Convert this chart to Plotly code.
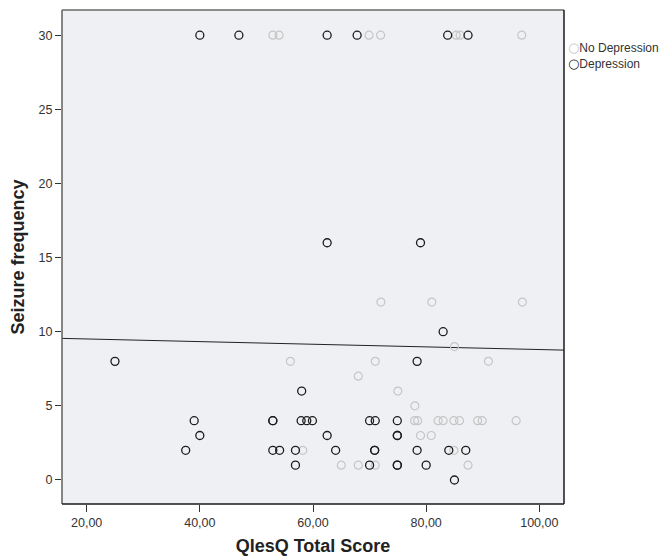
import plotly.graph_objects as go

# ---- data ----
nodep_x = [52.9, 54.0, 69.9, 71.95, 85.3, 86.0, 96.9,
           72.0, 81.0, 97.0,
           85.0,
           56.0, 71.0, 91.0,
           68.0,
           75.0,
           78.0,
           77.95, 78.5, 82.1, 83.0, 84.9, 85.9, 89.1, 89.9, 95.9,
           79.0, 80.9,
           58.2, 84.9,
           65.0, 68.0, 71.0, 87.4]
nodep_y = [30, 30, 30, 30, 30, 30, 30,
           12, 12, 12,
           9,
           8, 8, 8,
           7,
           6,
           5,
           4, 4, 4, 4, 4, 4, 4, 4, 4,
           3, 3,
           2, 2,
           1, 1, 1, 1]

dep_x = [40.0, 46.9, 62.5, 67.8, 83.8, 87.4,
         62.5, 79.0,
         83.0,
         25.0, 78.4,
         58.0,
         39.0, 52.9, 52.9, 57.9, 58.9, 59.9, 70.0, 71.0, 74.9,
         40.0, 62.5, 74.9, 74.9,
         37.5, 52.9, 54.1, 56.9, 64.0, 70.9, 70.9, 78.4, 84.0, 87.0,
         56.9, 70.0, 74.9, 74.9, 80.0,
         85.0]
dep_y = [30, 30, 30, 30, 30, 30,
         16, 16,
         10,
         8, 8,
         6,
         4, 4, 4, 4, 4, 4, 4, 4, 4,
         3, 3, 3, 3,
         2, 2, 2, 2, 2, 2, 2, 2, 2, 2,
         1, 1, 1, 1, 1,
         0]

# overall fit line (at the axis range ends)
fit_x = [15.64, 104.36]
fit_y = [9.55, 8.76]

x_tickvals = [20, 40, 60, 80, 100]
x_ticktext = ["20,00", "40,00", "60,00", "80,00", "100,00"]
y_tickvals = [0, 5, 10, 15, 20, 25, 30]

series_names = ["No Depression", "Depression"]

FONT = "Liberation Sans, Arial, sans-serif"
DARK = "#1c1c1c"
GRAY = "#c6c6c6"
series_colors = [GRAY, DARK]

fig = go.Figure()
fig.add_trace(go.Scatter(
    x=fit_x, y=fit_y, mode="lines", showlegend=False,
    line=dict(color="#222222", width=1), hoverinfo="skip"))
fig.add_trace(go.Scatter(
    x=nodep_x, y=nodep_y, mode="markers", name=series_names[0], showlegend=False,
    marker=dict(symbol="circle-open", size=8, color=GRAY, line=dict(width=1.2))))
fig.add_trace(go.Scatter(
    x=dep_x, y=dep_y, mode="markers", name=series_names[1], showlegend=False,
    marker=dict(symbol="circle-open", size=8, color=DARK, line=dict(width=1.3))))

# frame: left/top gray, right/bottom dark
frame = [
    dict(x0=0, x1=0, y0=0, y1=1, color="#5f5f5f"),
    dict(x0=0, x1=1, y0=1, y1=1, color="#6a6a6a"),
    dict(x0=1, x1=1, y0=0, y1=1, color="#1a1a1a"),
    dict(x0=0, x1=1, y0=0, y1=0, color="#1a1a1a"),
]
for f in frame:
    fig.add_shape(type="line", xref="x domain", yref="y domain",
                  x0=f["x0"], x1=f["x1"], y0=f["y0"], y1=f["y1"],
                  line=dict(color=f["color"], width=1.5), layer="above")

# legend drawn as one text block (symbol glyph + label per row), like the SPSS legend
legend_lines = [
    "<span style=\"font-family:'DejaVu Sans';font-size:13px;color:%s\">○</span>%s" % (c, n)
    for n, c in zip(series_names, series_colors)
]
fig.add_annotation(xref="paper", yref="paper", x=1.005, y=0.9085,
                   xanchor="left", yanchor="middle", align="left",
                   showarrow=False, borderpad=0,
                   text="<br>".join(legend_lines),
                   font=dict(family=FONT, size=12, color="#333333"))

# page body has an 8px margin; size the figure to compensate
fig.update_layout(
    width=662, height=548,
    margin=dict(l=54, r=106, t=2, b=52, autoexpand=False),
    paper_bgcolor="white",
    plot_bgcolor="#eff0f3",
    font=dict(family=FONT, color="#333333", size=12.5),
    showlegend=False,
)
fig.update_xaxes(
    range=[15.64, 104.36], tickvals=x_tickvals, ticktext=x_ticktext,
    ticks="outside", ticklen=7, tickwidth=1.2, tickcolor="#333333",
    showgrid=False, zeroline=False, showline=False,
    title=dict(text="<b>QlesQ Total Score</b>", font=dict(size=18, color="#222222"), standoff=14),
)
fig.update_yaxes(
    range=[-1.62, 31.7], tickvals=y_tickvals,
    ticks="outside", ticklen=6, tickwidth=1.2, tickcolor="#333333",
    showgrid=False, zeroline=False, showline=False,
    title=dict(text="<b>Seizure frequency</b>", font=dict(size=18, color="#222222"), standoff=11),
)

fig.write_html("out.html")
